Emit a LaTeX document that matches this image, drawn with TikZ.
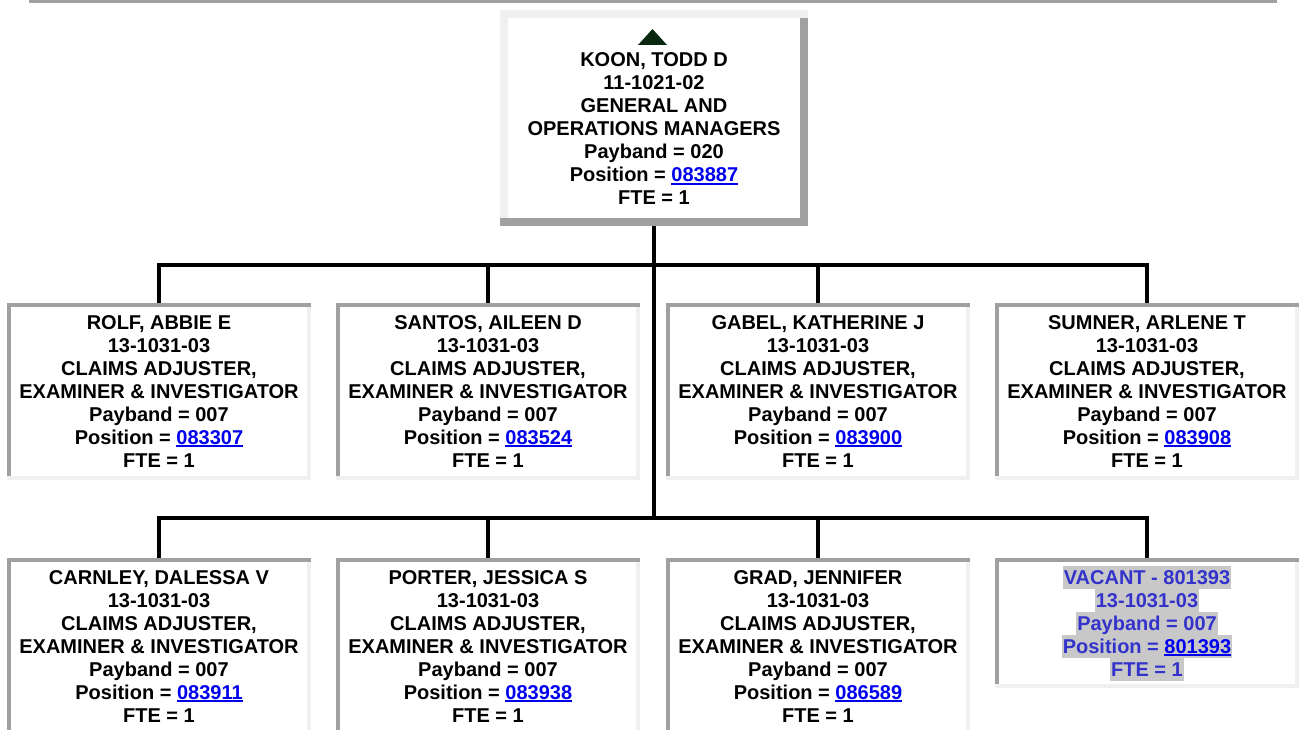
\documentclass[tikz,border=0pt]{standalone}
\usepackage{fontspec}
\setmainfont{Liberation Sans}
\definecolor{bdark}{RGB}{160,160,160}
\definecolor{blight}{RGB}{240,240,240}
\definecolor{linkblue}{RGB}{0,0,238}
\definecolor{vacblue}{RGB}{51,51,204}
\definecolor{hlgray}{RGB}{200,200,200}
\definecolor{trigreen}{RGB}{10,40,15}
\newcommand\lnk[1]{\textcolor{linkblue}{\setbox0\hbox{#1}\rlap{\rule[-2.6pt]{\wd0}{1.8pt}}\box0}}
\newcommand\hlline[1]{{\fboxsep=0pt\colorbox{hlgray}{\rule[-4.5pt]{0pt}{23pt}\kern1pt#1\kern1pt}}}
\newcommand\boxfont{\fontsize{20}{23}\selectfont\bfseries}
\tikzset{
  bevel/.style n args={3}{path picture={
    \fill[#3] ([xshift=-#1]path picture bounding box.south east) rectangle (path picture bounding box.north east);
    \fill[#2] (path picture bounding box.north west) rectangle ([yshift=-#1]path picture bounding box.north east);
    \fill[#2] (path picture bounding box.north west) rectangle ([xshift=#1]path picture bounding box.south west);
    \fill[#3] (path picture bounding box.south west) rectangle ([yshift=#1]path picture bounding box.south east);
  }},
  rowbox/.style={rectangle, fill=white, minimum width=304pt, minimum height=177pt,
    inner sep=0pt, align=center, font=\boxfont, bevel={4pt}{bdark}{blight}},
  vacbox/.style={rowbox, minimum height=130pt, text=vacblue},
  topbox/.style={rectangle, fill=white, minimum width=308pt, minimum height=216pt,
    inner sep=0pt, bevel={8pt}{blight}{bdark}},
  txt/.style={inner sep=0pt, align=center, font=\boxfont},
  conn/.style={line width=4pt, black},
}
\begin{document}
\begin{tikzpicture}[x=1pt,y=-1pt]
\useasboundingbox (0,0) rectangle (1299,730);
\clip (0,0) rectangle (1299,730);
\fill[bdark] (29,0) rectangle (1277,2.7);

\node[topbox] (koon) at (654,118) {};
\fill[trigreen] (638,45) -- (652.5,29) -- (667,45) -- cycle;
\node[txt] (koontxt) at (654,129) {KOON, TODD D\\11-1021-02\\GENERAL AND\\OPERATIONS MANAGERS\\Payband = 020\\Position = \lnk{083887}\\FTE = 1};

\node[rowbox] (r1) at (159,391.5) {ROLF, ABBIE E\\13-1031-03\\CLAIMS ADJUSTER,\\EXAMINER \& INVESTIGATOR\\Payband = 007\\Position = \lnk{083307}\\FTE = 1};
\node[rowbox] (r2) at (488,391.5) {SANTOS, AILEEN D\\13-1031-03\\CLAIMS ADJUSTER,\\EXAMINER \& INVESTIGATOR\\Payband = 007\\Position = \lnk{083524}\\FTE = 1};
\node[rowbox] (r3) at (818,391.5) {GABEL, KATHERINE J\\13-1031-03\\CLAIMS ADJUSTER,\\EXAMINER \& INVESTIGATOR\\Payband = 007\\Position = \lnk{083900}\\FTE = 1};
\node[rowbox] (r4) at (1147,391.5) {SUMNER, ARLENE T\\13-1031-03\\CLAIMS ADJUSTER,\\EXAMINER \& INVESTIGATOR\\Payband = 007\\Position = \lnk{083908}\\FTE = 1};

\node[rowbox] (s1) at (159,646.5) {CARNLEY, DALESSA V\\13-1031-03\\CLAIMS ADJUSTER,\\EXAMINER \& INVESTIGATOR\\Payband = 007\\Position = \lnk{083911}\\FTE = 1};
\node[rowbox] (s2) at (488,646.5) {PORTER, JESSICA S\\13-1031-03\\CLAIMS ADJUSTER,\\EXAMINER \& INVESTIGATOR\\Payband = 007\\Position = \lnk{083938}\\FTE = 1};
\node[rowbox] (s3) at (818,646.5) {GRAD, JENNIFER\\13-1031-03\\CLAIMS ADJUSTER,\\EXAMINER \& INVESTIGATOR\\Payband = 007\\Position = \lnk{086589}\\FTE = 1};
\node[vacbox] (s4) at (1147,623) {\hlline{VACANT - 801393}\\\hlline{13-1031-03}\\\hlline{Payband = 007}\\\hlline{Position = \lnk{801393}}\\\hlline{FTE = 1}};

\coordinate (bus1) at (654,265);
\coordinate (bus2) at (654,518);
\draw[conn] (koon.south) -- (bus2);
\foreach \c in {r1,r2,r3,r4} \draw[conn] (bus1) -| (\c.north);
\foreach \c in {s1,s2,s3,s4} \draw[conn] (bus2) -| (\c.north);
\end{tikzpicture}
\end{document}
